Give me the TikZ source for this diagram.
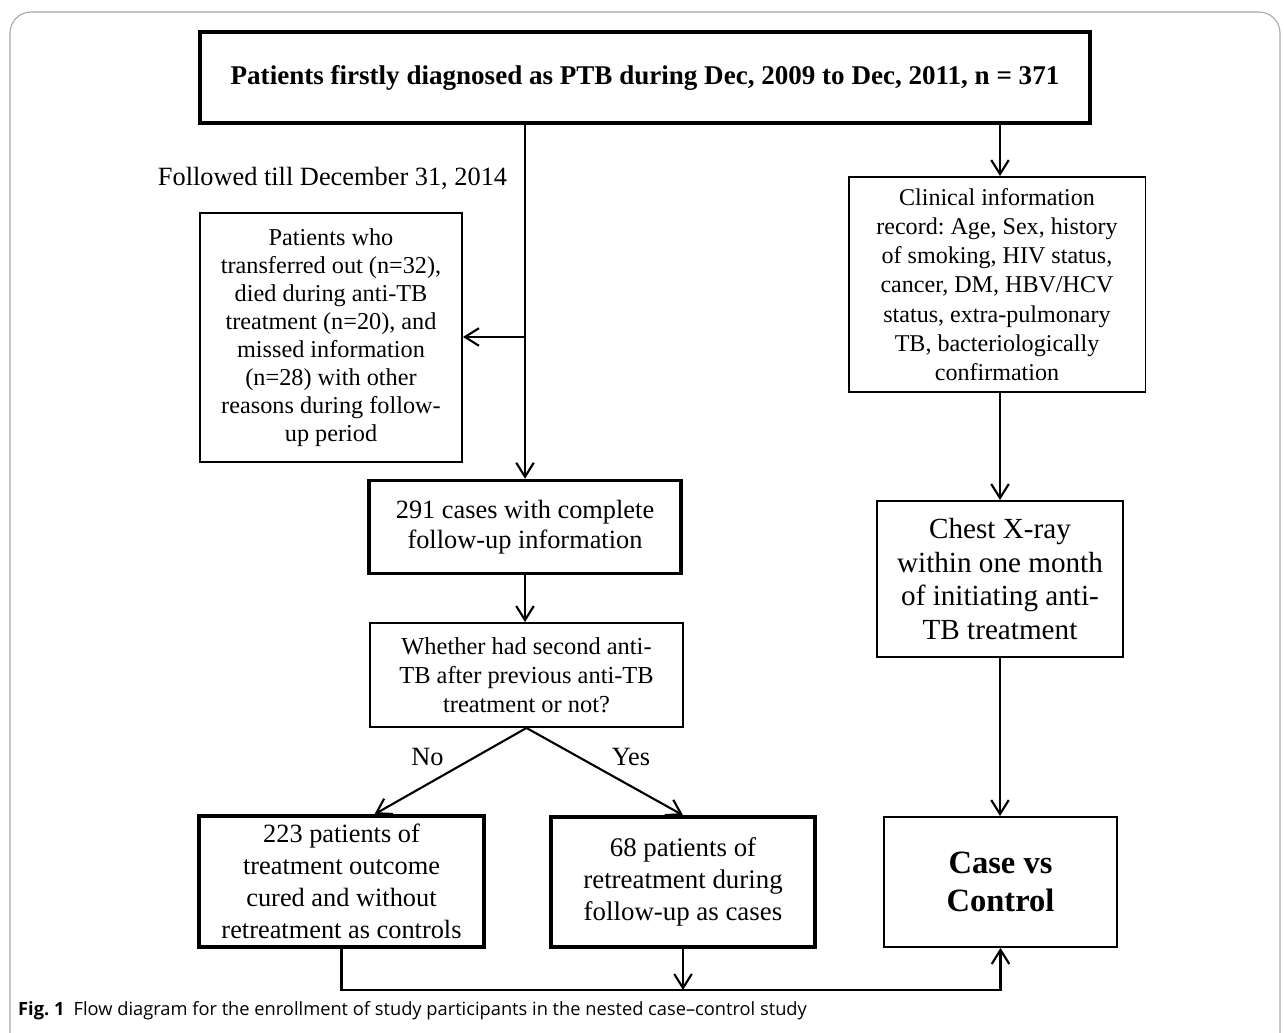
\documentclass[tikz,border=0pt]{standalone}
\usepackage{fontspec}
\setmainfont{Liberation Serif}
\newfontfamily\capfont{Open Sans}
\usetikzlibrary{arrows.meta, positioning, calc}
\frenchspacing

\begin{document}
\begin{tikzpicture}[
    x=0.02cm, y=-0.02cm,
    every node/.style={font=\fontsize{15}{18}\selectfont},
    thinbox/.style={rectangle, draw, line width=1.1pt, align=center, inner sep=2pt},
    thickbox/.style={rectangle, draw, line width=2pt, align=center, inner sep=2pt},
    arr/.style={line width=1.2pt, -{Straight Barb[length=8pt, width=10pt, line width=1.2pt]}},
]
\useasboundingbox (0,0) rectangle (1284,1033);
\draw[gray!70, line width=0.6pt, rounded corners=12pt] (10,12) rectangle (1280,1060);

% left column
\node[thickbox, minimum width=17.8cm, minimum height=1.82cm,
      font=\fontsize{15.4}{18}\selectfont\bfseries] (top) at (645,77.5)
    {Patients firstly diagnosed as PTB during Dec, 2009 to Dec, 2011, n = 371};
\node (follow) at (332.5,178) {Followed till December 31, 2014};
\node[thinbox, minimum width=5.24cm, minimum height=4.98cm,
      font=\fontsize{13.8}{15.9}\selectfont] (lost) at (331,337.5)
    {Patients who\\ transferred out (n=32),\\ died during anti-TB\\ treatment (n=20), and\\ missed information\\ (n=28) with other\\ reasons during follow-\\ up period};
\node[thickbox, minimum width=6.24cm, minimum height=1.86cm,
      font=\fontsize{15}{17}\selectfont] (complete) at (525,527)
    {291 cases with complete\\ follow-up information};
\node[thinbox, minimum width=6.26cm, minimum height=2.08cm,
      font=\fontsize{13.9}{16.5}\selectfont] (second) at (526.5,675)
    {Whether had second anti-\\ TB after previous anti-TB\\ treatment or not?};
\node[thickbox, minimum width=5.7cm, minimum height=2.62cm,
      font=\fontsize{15}{18.3}\selectfont] (controls) at (341.5,881.5)
    {223 patients of\\ treatment outcome\\ cured and without\\ retreatment as controls};
\node[thickbox, minimum width=5.28cm, minimum height=2.6cm,
      font=\fontsize{15.3}{18}\selectfont] (cases) at (683,882)
    {68 patients of\\ retreatment during\\ follow-up as cases};
\node (no) at (427.5,757) {No};
\node (yes) at (631,757) {Yes};

% right column
\node[thinbox, minimum width=5.94cm, minimum height=4.3cm,
      font=\fontsize{13.7}{16.6}\selectfont] (clinical) at (997,284.5)
    {Clinical information\\ record: Age, Sex, history\\ of smoking, HIV status,\\ cancer, DM, HBV/HCV\\ status, extra-pulmonary\\ TB, bacteriologically\\ confirmation};
\node[thinbox, minimum width=4.92cm, minimum height=3.12cm,
      font=\fontsize{16.6}{19.2}\selectfont] (xray) at (1000,579)
    {Chest X-ray\\ within one month\\ of initiating anti-\\ TB treatment};
\node[thinbox, minimum width=4.66cm, minimum height=2.6cm,
      font=\fontsize{18.5}{21.7}\selectfont\bfseries] (result) at (1000.5,882)
    {Case vs\\ Control};

% caption
\node[anchor=west, font=\capfont\fontsize{10.4}{12}\selectfont] (caption) at (12,1011)
    {\textbf{Fig. 1}\enspace Flow diagram for the enrollment of study participants in the nested case–control study};

% connectors
\coordinate (split) at (525,337);
\coordinate (rcol) at (1000,0);
\coordinate (lowL) at (341.5,990);
\coordinate (lowM) at (683,990);

\draw[arr] (split |- top.south) -- (split |- complete.north);
\draw[arr] (split) -- (split -| lost.east);
\draw[arr] (complete.south) -- (complete.south |- second.north);
\draw[arr] (second.south) -- ($(controls.north)+(33,0)$);
\draw[arr] (second.south) -- (cases.north);
\draw[arr] (cases.south) -- (lowM);
\draw[arr] (controls.south) -- (lowL) -| (result.south);

\draw[arr] (rcol |- top.south) -- (rcol |- clinical.north);
\draw[arr] (rcol |- clinical.south) -- (rcol |- xray.north);
\draw[arr] (rcol |- xray.south) -- (rcol |- result.north);
\end{tikzpicture}
\end{document}
